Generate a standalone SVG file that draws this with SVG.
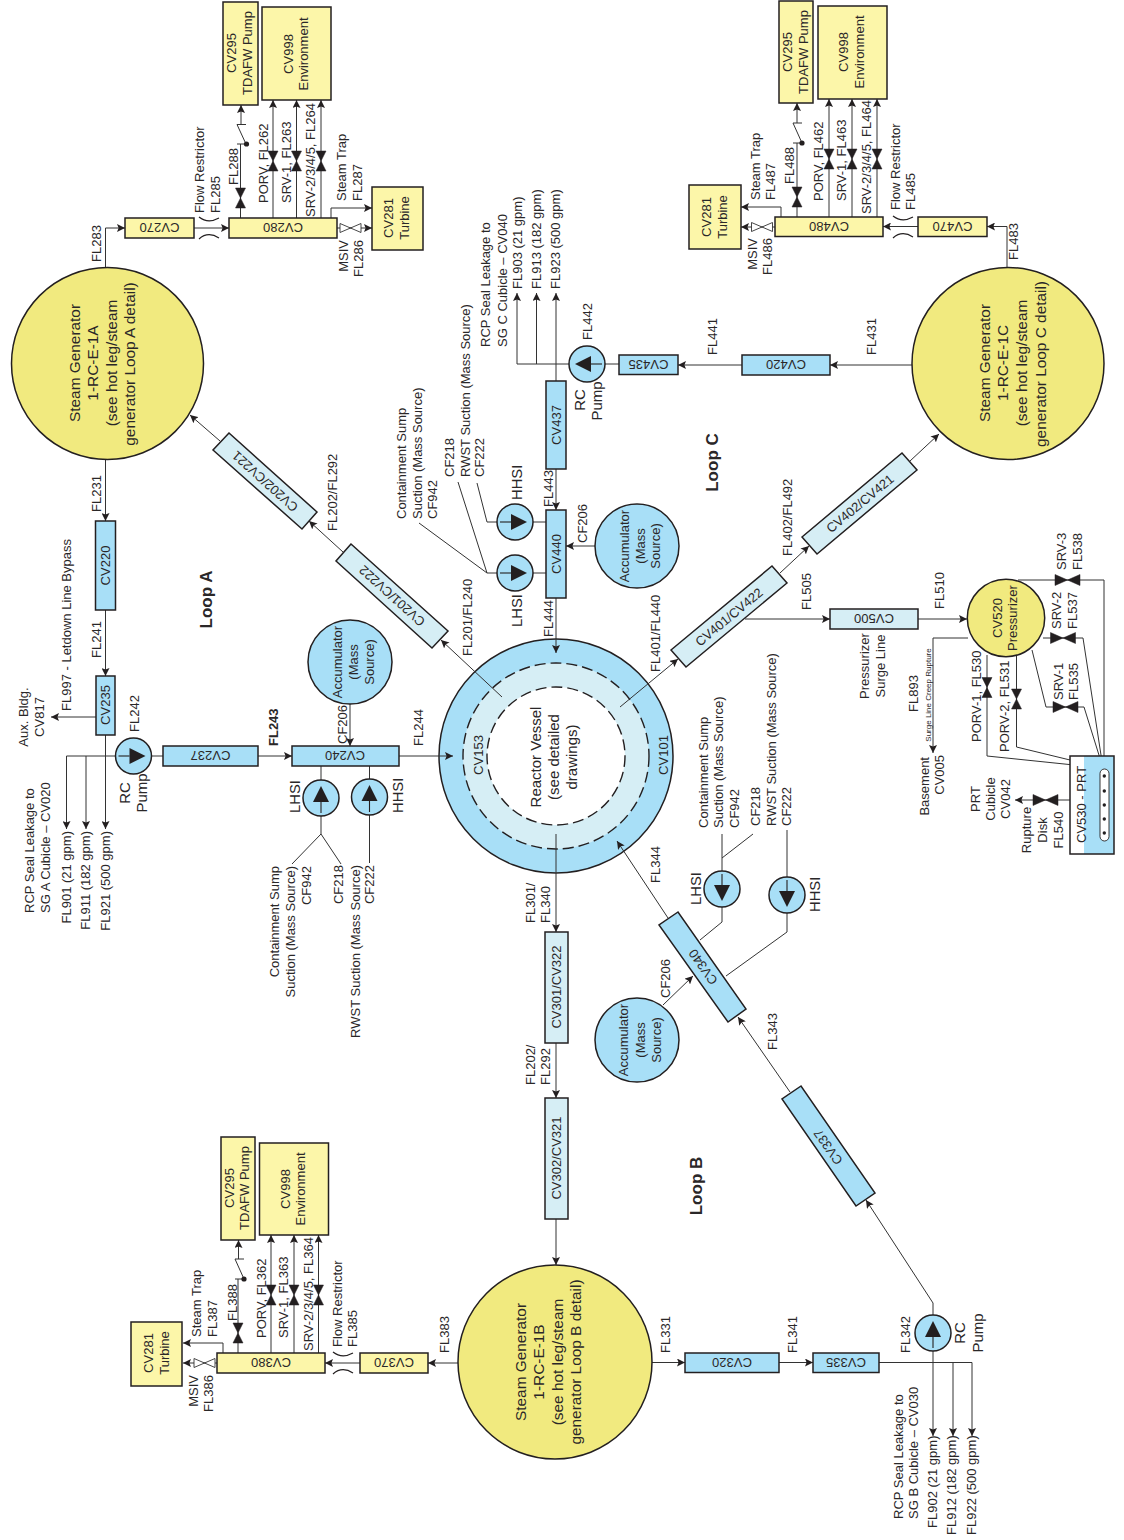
<svg xmlns="http://www.w3.org/2000/svg" width="1124" height="1540" viewBox="0 0 1124 1540">
<style>
text{font-family:"Liberation Sans",Arial,sans-serif;font-size:13px;fill:#2a2728}
.e{text-anchor:end}.m{text-anchor:middle}
.bm{font-size:13px;text-anchor:middle}
.sg{font-size:15.4px;text-anchor:middle}.rv{font-size:15px;text-anchor:middle}
.big{font-size:15px;text-anchor:middle}.hs{font-size:14.8px}
.lp{font-size:17px;font-weight:bold;text-anchor:middle}
.tiny{font-size:8px;text-anchor:middle}
.y{fill:#fcf6a9;stroke:#231f20;stroke-width:1.5}
.g{fill:#f1ea7f;stroke:#231f20;stroke-width:1.5}
.c{fill:#a8dff7;stroke:#231f20;stroke-width:1.5}
.p{fill:#d6eef5;stroke:#231f20;stroke-width:1.5}
.ln{fill:none;stroke:#333;stroke-width:1}
.ar{marker-end:url(#a)}
.k{fill:#231f20;stroke:#231f20;stroke-width:.5}
.h{fill:#fff;stroke:#333;stroke-width:.9}
.d{fill:none;stroke:#231f20;stroke-width:1.4;stroke-dasharray:11 5}
</style>
<defs>
<marker id="a" markerUnits="userSpaceOnUse" markerWidth="9" markerHeight="8" refX="8" refY="4" orient="auto"><path d="M0 0L8 4L0 8L1.6 4Z" fill="#231f20"/></marker>
<g id="pump"><circle r="18" class="c"/><polygon points="0,-12 -8,4 8,4" fill="#231f20"/><path d="M0 4V15" stroke="#231f20" stroke-width="1.1"/></g>
<polygon id="vv" class="k" points="-5,-10 5,-10 -5,10 5,10 0,0"/>
<polygon id="vh" class="k" points="-12.5,-5.5 -12.5,5.5 0,0 12.5,5.5 12.5,-5.5 0,0"/>
<polygon id="vo" class="h" points="-10.5,-4.5 -10.5,4.5 10.5,-4.5 10.5,4.5"/>
</defs>
<rect width="1124" height="1540" fill="#fff"/>

<g id="reactor-vessel">
<circle cx="556" cy="756" r="117" class="c"/>
<circle cx="556" cy="756" r="93" fill="#d6eef5"/>
<circle cx="556" cy="756" r="69" fill="#fff"/>
<circle cx="556" cy="756" r="93" class="d"/>
<circle cx="556" cy="756" r="69" class="d"/>
<text class="bm" transform="translate(483 755) rotate(-90)">CV153</text>
<text class="bm" transform="translate(668 755) rotate(-90)">CV101</text>
<text class="rv" transform="translate(541 757) rotate(-90)">Reactor Vessel</text>
<text class="rv" transform="translate(559 757) rotate(-90)">(see detailed</text>
<text class="rv" transform="translate(577 757) rotate(-90)">drawings)</text>
</g>

<g id="connectors">
<path class="ln ar" d="M105.5 267V228H125"/>
<path class="ln ar" d="M194 228H229"/>
<path class="ln" d="M240.5 218V144M237 144H246M246 144L237 124.5M237 124.5H246"/>
<path class="ln ar" d="M241 124.5V105"/>
<path class="ln ar" d="M273 218V100"/><path class="ln ar" d="M296.5 218V100"/><path class="ln ar" d="M321 218V100"/>
<path class="ln ar" d="M331 218V208H372"/>
<path class="ln ar" d="M337 228H372"/>
<path class="ln ar" d="M105.5 459V521"/><path class="ln ar" d="M105.5 610V676"/>
<path class="ln ar" d="M105.5 735V829"/>
<path class="ln" d="M66.5 756H116"/>
<path class="ln ar" d="M66.5 756V829"/><path class="ln ar" d="M86 756V829"/>
<path class="ln ar" d="M96 717H51"/>
<path class="ln" d="M152 756H163"/><path class="ln ar" d="M258 756H292"/><path class="ln ar" d="M399 756H453"/>
<path class="ln ar" d="M350 704V746"/>
<path class="ln" d="M321 766V834M292 864L321 834L341 864M369.5 766V863"/>
<path class="ln ar" d="M502 697L441 640"/><path class="ln ar" d="M343 552L309 521"/><path class="ln ar" d="M220 441L190 415"/>
<path class="ln ar" d="M1007 267V226.5H987"/>
<path class="ln ar" d="M918 226.5H883"/>
<path class="ln" d="M797 217V143M793 143H802M802 143L793 123M793 123H802"/>
<path class="ln ar" d="M797 123V103"/>
<path class="ln ar" d="M829 217V99"/><path class="ln ar" d="M852 217V99"/><path class="ln ar" d="M877 217V99"/>
<path class="ln ar" d="M781 217V207H741"/>
<path class="ln ar" d="M775 227H741"/>
<path class="ln ar" d="M912 365H830"/><path class="ln ar" d="M742 365H678"/>
<path class="ln" d="M619 364H605M569 364H517"/>
<path class="ln ar" d="M517 364V293"/><path class="ln ar" d="M536.5 364V293"/><path class="ln ar" d="M556 381V293"/>
<path class="ln ar" d="M556 469V510"/>
<path class="ln" d="M533 522H546M497 522H487L477 483"/>
<path class="ln" d="M533 573H546M497 573H487L458 482M487 573L419 523"/>
<path class="ln ar" d="M595 546H566"/>
<path class="ln ar" d="M556 598V653"/>
<path class="ln ar" d="M620 707L678 659"/><path class="ln ar" d="M780 573L809 546"/><path class="ln ar" d="M910 461L939 434"/>
<path class="ln ar" d="M745 619H830"/><path class="ln ar" d="M918 619H967"/>
<path class="ln ar" d="M968 638H933V753"/>
<path class="ln" d="M987 655V756L1103 768M1016.5 655V747L1103 768"/>
<path class="ln" d="M1032 650L1046 707H1084L1103 768M1043 638H1083L1103 768M1018 580H1104V768"/>
<path class="ln ar" d="M1070 800H1015"/>
<path class="ln ar" d="M556 834V932"/><path class="ln ar" d="M556 1043V1098"/><path class="ln ar" d="M556 1219V1265"/>
<path class="ln ar" d="M458 1363H428"/>
<path class="ln ar" d="M360 1363H325"/>
<path class="ln" d="M238 1353V1279M235 1279H244M244 1279L235 1259M235 1259H244"/>
<path class="ln ar" d="M238.5 1259V1240"/>
<path class="ln ar" d="M271 1353V1235"/><path class="ln ar" d="M294 1353V1235"/><path class="ln ar" d="M318.5 1353V1235"/>
<path class="ln ar" d="M223 1353V1343H183"/>
<path class="ln ar" d="M217 1363H183"/>
<path class="ln ar" d="M652 1362.5H685"/><path class="ln ar" d="M779 1362.5H813"/>
<path class="ln" d="M879 1362.5H972"/>
<path class="ln ar" d="M933 1351V1436"/><path class="ln ar" d="M953 1362.5V1436"/><path class="ln ar" d="M972 1362.5V1436"/>
<path class="ln ar" d="M933 1315V1303L866 1200"/>
<path class="ln ar" d="M790 1092L738 1017"/>
<path class="ln ar" d="M668 918L617 841"/>
<path class="ln ar" d="M663 1005L693 976"/>
<path class="ln" d="M722 871V834M722 858L753 834M722 907V922L700 940M787 877V830M787 913V932L726 976"/>
</g>

<g id="valves">
<use href="#vv" x="240.5" y="198"/><use href="#vv" x="273" y="161"/><use href="#vv" x="296.5" y="161"/><use href="#vv" x="321" y="161"/>
<use href="#vo" x="350.5" y="228"/>
<use href="#vv" x="797" y="197"/><use href="#vv" x="829" y="159"/><use href="#vv" x="852" y="159"/><use href="#vv" x="877" y="159"/>
<use href="#vo" x="762" y="227"/>
<use href="#vv" x="238" y="1333"/><use href="#vv" x="271" y="1295"/><use href="#vv" x="294" y="1295"/><use href="#vv" x="318.5" y="1295"/>
<use href="#vo" x="204.5" y="1363"/>
<use href="#vv" x="987" y="687.5"/><use href="#vv" x="1016.5" y="699"/>
<use href="#vh" x="1065.5" y="707"/><use href="#vh" x="1063" y="638"/><use href="#vh" x="1067.5" y="580"/><use href="#vh" x="1045.5" y="800"/>
<circle cx="246.5" cy="144" r="2.6" fill="#231f20"/><circle cx="802" cy="143" r="2.6" fill="#231f20"/><circle cx="244" cy="1279" r="2.6" fill="#231f20"/>
</g>

<g id="SG-A"><circle cx="107.5" cy="363.5" r="96" class="g"/>
<text class="sg" transform="translate(80 363) rotate(-90)">Steam Generator</text><text class="sg" transform="translate(98 363) rotate(-90)">1-RC-E-1A</text><text class="sg" transform="translate(117 363) rotate(-90)">(see hot leg/steam</text><text class="sg" transform="translate(135 364) rotate(-90)">generator Loop A detail)</text></g>
<g id="SG-B"><circle cx="555" cy="1362" r="97" class="g"/>
<text class="sg" transform="translate(526 1362) rotate(-90)">Steam Generator</text><text class="sg" transform="translate(544 1362) rotate(-90)">1-RC-E-1B</text><text class="sg" transform="translate(563 1362) rotate(-90)">(see hot leg/steam</text><text class="sg" transform="translate(581 1362) rotate(-90)">generator Loop B detail)</text></g>
<g id="SG-C"><circle cx="1008" cy="363.5" r="96" class="g"/>
<text class="sg" transform="translate(990 363) rotate(-90)">Steam Generator</text><text class="sg" transform="translate(1008 363) rotate(-90)">1-RC-E-1C</text><text class="sg" transform="translate(1027 363) rotate(-90)">(see hot leg/steam</text><text class="sg" transform="translate(1046 364) rotate(-90)">generator Loop C detail)</text></g>

<g id="CV295-A"><rect x="223" y="2" width="35" height="103" class="y"/><text class="bm" transform="translate(236 53) rotate(-90)">CV295</text><text class="bm" transform="translate(252 53) rotate(-90)">TDAFW Pump</text></g>
<g id="CV998-A"><rect x="262" y="7" width="69" height="93" class="y"/><text class="bm" transform="translate(293 54) rotate(-90)">CV998</text><text class="bm" transform="translate(308 54) rotate(-90)">Environment</text></g>
<g id="CV270"><rect x="125" y="218" width="69" height="20" class="y"/><text class="bm" transform="translate(159.5 228) rotate(180)" y="4.6">CV270</text></g>
<g id="CV280"><rect x="229" y="218" width="108" height="20" class="y"/><text class="bm" transform="translate(283 228) rotate(180)" y="4.6">CV280</text></g>
<g id="CV281-A"><rect x="372" y="187" width="51" height="63" class="y"/><text class="bm" transform="translate(393 218) rotate(-90)">CV281</text><text class="bm" transform="translate(409 218) rotate(-90)">Turbine</text></g>

<g id="CV295-C"><rect x="779" y="1" width="34" height="102" class="y"/><text class="bm" transform="translate(792 52) rotate(-90)">CV295</text><text class="bm" transform="translate(808 52) rotate(-90)">TDAFW Pump</text></g>
<g id="CV998-C"><rect x="818" y="6" width="69" height="93" class="y"/><text class="bm" transform="translate(848 52) rotate(-90)">CV998</text><text class="bm" transform="translate(864 52) rotate(-90)">Environment</text></g>
<g id="CV470"><rect x="918" y="217" width="69" height="19.5" class="y"/><text class="bm" transform="translate(952.5 226.5) rotate(180)" y="4.6">CV470</text></g>
<g id="CV480"><rect x="775" y="217" width="108" height="19.5" class="y"/><text class="bm" transform="translate(829 226.5) rotate(180)" y="4.6">CV480</text></g>
<g id="CV281-C"><rect x="689" y="185" width="52" height="64" class="y"/><text class="bm" transform="translate(711 217) rotate(-90)">CV281</text><text class="bm" transform="translate(727 217) rotate(-90)">Turbine</text></g>

<g id="CV295-B"><rect x="221" y="1137" width="34" height="103" class="y"/><text class="bm" transform="translate(234 1188) rotate(-90)">CV295</text><text class="bm" transform="translate(249 1188) rotate(-90)">TDAFW Pump</text></g>
<g id="CV998-B"><rect x="259.5" y="1143" width="69" height="92" class="y"/><text class="bm" transform="translate(290 1189) rotate(-90)">CV998</text><text class="bm" transform="translate(305 1189) rotate(-90)">Environment</text></g>
<g id="CV370"><rect x="360" y="1353" width="68" height="20" class="y"/><text class="bm" transform="translate(394 1363) rotate(180)" y="4.6">CV370</text></g>
<g id="CV380"><rect x="217" y="1353" width="108" height="20" class="y"/><text class="bm" transform="translate(271 1363) rotate(180)" y="4.6">CV380</text></g>
<g id="CV281-B"><rect x="131" y="1322" width="51" height="64" class="y"/><text class="bm" transform="translate(153 1353) rotate(-90)">CV281</text><text class="bm" transform="translate(169 1353) rotate(-90)">Turbine</text></g>

<g id="CV220"><rect x="95.5" y="521" width="20" height="89" class="c"/><text class="bm" transform="translate(110 565.5) rotate(-90)">CV220</text></g>
<g id="CV235"><rect x="96" y="676" width="19" height="59" class="c"/><text class="bm" transform="translate(110 705) rotate(-90)">CV235</text></g>
<g id="CV237"><rect x="163" y="746" width="95" height="20" class="c"/><text class="bm" transform="translate(210.5 756) rotate(180)" y="4.6">CV237</text></g>
<g id="CV240"><rect x="292" y="746" width="107" height="20" class="c"/><text class="bm" transform="translate(345 756) rotate(180)" y="4.6">CV240</text></g>
<g id="CV437"><rect x="546" y="381" width="20" height="88" class="c"/><text class="bm" transform="translate(560.5 425) rotate(-90)">CV437</text></g>
<g id="CV440"><rect x="546" y="510" width="20" height="88" class="c"/><text class="bm" transform="translate(560.5 554) rotate(-90)">CV440</text></g>
<g id="CV435"><rect x="619" y="355" width="59" height="19.5" class="c"/><text class="bm" transform="translate(648.5 364.5) rotate(180)" y="4.6">CV435</text></g>
<g id="CV420"><rect x="742" y="355" width="88" height="20" class="c"/><text class="bm" transform="translate(786 365) rotate(180)" y="4.6">CV420</text></g>
<g id="CV320"><rect x="685" y="1353" width="94" height="19.5" class="c"/><text class="bm" transform="translate(732 1362.5) rotate(180)" y="4.6">CV320</text></g>
<g id="CV335"><rect x="813" y="1353" width="66" height="19.5" class="c"/><text class="bm" transform="translate(846 1362.5) rotate(180)" y="4.6">CV335</text></g>
<g id="CV500"><rect x="830" y="609" width="88" height="20" class="p"/><text class="bm" transform="translate(874 619) rotate(180)" y="4.6">CV500</text></g>
<g id="CV301"><rect x="545" y="932" width="23" height="111" class="p"/><text class="bm" transform="translate(560.5 987) rotate(-90)">CV301/CV322</text></g>
<g id="CV302"><rect x="545" y="1098" width="23" height="121" class="p"/><text class="bm" transform="translate(560.5 1158) rotate(-90)">CV302/CV321</text></g>

<g id="CV201"><polygon points="351,544 336,561 432,648 448,631" class="p"/><text class="bm" transform="translate(392 596) rotate(222)" y="4.6">CV201/CV222</text></g>
<g id="CV202"><polygon points="229,433 213,450 302,529 317,512" class="p"/><text class="bm" transform="translate(265 481.5) rotate(222)" y="4.6">CV202/CV221</text></g>
<g id="CV401"><polygon points="671,650 686,667 787,583 772,566" class="p"/><text class="bm" transform="translate(729 617) rotate(-39.7)" y="4.6">CV401/CV422</text></g>
<g id="CV402"><polygon points="802,537 817,554 917,470 902,453" class="p"/><text class="bm" transform="translate(860 503.5) rotate(-39.7)" y="4.6">CV402/CV421</text></g>
<g id="CV340"><polygon points="678,912 659,925 728,1022 746,1009" class="c"/><text class="bm" transform="translate(703 967) rotate(235)" y="4.6">CV340</text></g>
<g id="CV337"><polygon points="801,1086 782,1099 856,1206 875,1193" class="c"/><text class="bm" transform="translate(828 1147) rotate(235)" y="4.6">CV337</text></g>

<g id="pump-A"><use href="#pump" transform="translate(133.5 756) rotate(90)"/></g>
<g id="LHSI-A"><use href="#pump" transform="translate(321 798)"/></g>
<g id="HHSI-A"><use href="#pump" transform="translate(369.5 797)"/></g>
<g id="pump-C"><use href="#pump" transform="translate(587 364) rotate(-90)"/></g>
<g id="HHSI-C"><use href="#pump" transform="translate(515 522) rotate(90)"/></g>
<g id="LHSI-C"><use href="#pump" transform="translate(515 573) rotate(90)"/></g>
<g id="LHSI-B"><use href="#pump" transform="translate(722 889) rotate(180)"/></g>
<g id="HHSI-B"><use href="#pump" transform="translate(787 895) rotate(180)"/></g>
<g id="pump-B"><use href="#pump" transform="translate(933 1333)"/></g>

<g id="accumulator-A"><circle cx="350" cy="662" r="42" class="c"/><text class="m" transform="translate(342 662) rotate(-90)">Accumulator</text><text class="m" transform="translate(358 662) rotate(-90)">(Mass</text><text class="m" transform="translate(374 662) rotate(-90)">Source)</text></g>
<g id="accumulator-C"><circle cx="637" cy="546" r="42" class="c"/><text class="m" transform="translate(629 546) rotate(-90)">Accumulator</text><text class="m" transform="translate(645 546) rotate(-90)">(Mass</text><text class="m" transform="translate(660 546) rotate(-90)">Source)</text></g>
<g id="accumulator-B"><circle cx="637" cy="1040" r="42" class="c"/><text class="m" transform="translate(628 1040) rotate(-90)">Accumulator</text><text class="m" transform="translate(645 1040) rotate(-90)">(Mass</text><text class="m" transform="translate(661 1040) rotate(-90)">Source)</text></g>

<g id="pressurizer"><circle cx="1006" cy="618" r="38.7" class="g"/><text class="bm" transform="translate(1002 618) rotate(-90)">CV520</text><text class="bm" transform="translate(1017 618) rotate(-90)">Pressurizer</text></g>
<g id="CV530"><rect x="1070" y="756" width="44" height="98" fill="#fff"/><rect x="1084" y="756" width="30" height="98" fill="#a8dff7"/><rect x="1070" y="756" width="44" height="98" fill="none" stroke="#231f20" stroke-width="1.5"/>
<rect x="1100" y="769" width="9" height="72" rx="4.5" fill="#fff" stroke="#231f20" stroke-width=".9"/>
<circle cx="1104.3" cy="776" r="1.7" fill="#231f20"/><circle cx="1104.3" cy="791" r="1.7" fill="#231f20"/><circle cx="1104.3" cy="805" r="1.7" fill="#231f20"/><circle cx="1104.3" cy="819" r="1.7" fill="#231f20"/><circle cx="1104.3" cy="833" r="1.7" fill="#231f20"/>
<text transform="translate(1086 843) rotate(-90)">CV530 - PRT</text></g>

<g id="restrictors" fill="none" stroke="#231f20" stroke-width="1.2">
<path d="M199 217Q208 224 219 218M199 239Q208 231 219 238"/>
<path d="M893 216Q902 223 913 217M893 238Q902 230 913 237"/>
<path d="M333 1352Q342 1359 353 1353M333 1374Q342 1366 353 1373"/>
</g>

<g id="labels">
<text transform="translate(101 262) rotate(-90)">FL283</text>
<text transform="translate(204 213) rotate(-90)">Flow Restrictor</text><text transform="translate(220 213) rotate(-90)">FL285</text>
<text transform="translate(238 185) rotate(-90)">FL288</text>
<text transform="translate(268 203) rotate(-90)">PORV, FL262</text>
<text transform="translate(291 203) rotate(-90)">SRV-1, FL263</text>
<text transform="translate(315 217) rotate(-90)">SRV-2/3/4/5, FL264</text>
<text transform="translate(346 201) rotate(-90)">Steam Trap</text><text transform="translate(362 201) rotate(-90)">FL287</text>
<text class="e" transform="translate(348 240) rotate(-90)">MSIV</text><text class="e" transform="translate(363 240) rotate(-90)">FL286</text>
<text transform="translate(101 512) rotate(-90)">FL231</text>
<text transform="translate(101 658) rotate(-90)">FL241</text>
<text transform="translate(71 711) rotate(-90)">FL997 - Letdown Line Bypass</text>
<text class="m" transform="translate(28 717) rotate(-90)">Aux. Bldg.</text><text class="m" transform="translate(44 717) rotate(-90)">CV817</text>
<text transform="translate(139 732) rotate(-90)">FL242</text>
<text class="big" transform="translate(130 793) rotate(-90)">RC</text><text class="big" transform="translate(147 793) rotate(-90)">Pump</text>
<text font-weight="bold" transform="translate(278 746) rotate(-90)">FL243</text>
<text transform="translate(423 746) rotate(-90)">FL244</text>
<text transform="translate(347 744) rotate(-90)">CF206</text>
<text class="hs" transform="translate(300 813) rotate(-90)">LHSI</text><text class="hs" transform="translate(403 813) rotate(-90)">HHSI</text>
<text class="e" transform="translate(279 866) rotate(-90)">Containment Sump</text><text class="e" transform="translate(295 866) rotate(-90)">Suction (Mass Source)</text><text class="e" transform="translate(311 866) rotate(-90)">CF942</text>
<text class="e" transform="translate(343 865) rotate(-90)">CF218</text><text class="e" transform="translate(360 865) rotate(-90)">RWST Suction (Mass Source)</text><text class="e" transform="translate(374 865) rotate(-90)">CF222</text>
<text class="e" transform="translate(71 831) rotate(-90)">FL901 (21 gpm)</text><text class="e" transform="translate(90 831) rotate(-90)">FL911 (182 gpm)</text><text class="e" transform="translate(110 831) rotate(-90)">FL921 (500 gpm)</text>
<text transform="translate(34 913) rotate(-90)">RCP Seal Leakage to</text><text transform="translate(50 913) rotate(-90)">SG A Cubicle – CV020</text>
<text transform="translate(337 531) rotate(-90)">FL202/FL292</text>
<text transform="translate(472 656) rotate(-90)">FL201/FL240</text>
<text class="lp" transform="translate(212 599.5) rotate(-90)">Loop A</text>

<text transform="translate(660 672) rotate(-90)">FL401/FL440</text>
<text transform="translate(792 556) rotate(-90)">FL402/FL492</text>
<text transform="translate(811 610) rotate(-90)">FL505</text>
<text transform="translate(944 609) rotate(-90)">FL510</text>
<text class="m" transform="translate(869 666) rotate(-90)">Pressurizer</text><text class="m" transform="translate(885 666) rotate(-90)">Surge Line</text>
<text transform="translate(918 712) rotate(-90)">FL893</text>
<text class="tiny" transform="translate(931 695) rotate(-90)">Surge Line Creep Rupture</text>
<text class="e" transform="translate(929 757) rotate(-90)">Basement</text><text class="e" transform="translate(944 755) rotate(-90)">CV005</text>
<text transform="translate(981 742) rotate(-90)">PORV-1, FL530</text>
<text transform="translate(1009 752) rotate(-90)">PORV-2, FL531</text>
<text transform="translate(1063 700) rotate(-90)">SRV-1</text><text transform="translate(1078 700) rotate(-90)">FL535</text>
<text transform="translate(1061 629) rotate(-90)">SRV-2</text><text transform="translate(1077 629) rotate(-90)">FL537</text>
<text transform="translate(1066 570) rotate(-90)">SRV-3</text><text transform="translate(1082 570) rotate(-90)">FL538</text>
<text class="m" transform="translate(980 799) rotate(-90)">PRT</text><text class="m" transform="translate(995 799) rotate(-90)">Cubicle</text><text class="m" transform="translate(1010 799) rotate(-90)">CV042</text>
<text class="m" transform="translate(1031 830) rotate(-90)">Rupture</text><text class="m" transform="translate(1047 830) rotate(-90)">Disk</text><text class="m" transform="translate(1063 830) rotate(-90)">FL540</text>

<text transform="translate(900 210) rotate(-90)">Flow Restrictor</text><text transform="translate(915 210) rotate(-90)">FL485</text>
<text transform="translate(794 184) rotate(-90)">FL488</text>
<text transform="translate(823 201) rotate(-90)">PORV, FL462</text>
<text transform="translate(846 201) rotate(-90)">SRV-1, FL463</text>
<text transform="translate(871 214) rotate(-90)">SRV-2/3/4/5, FL464</text>
<text transform="translate(760 200) rotate(-90)">Steam Trap</text><text transform="translate(775 200) rotate(-90)">FL487</text>
<text class="e" transform="translate(757 238) rotate(-90)">MSIV</text><text class="e" transform="translate(772 238) rotate(-90)">FL486</text>
<text transform="translate(1018 260) rotate(-90)">FL483</text>
<text transform="translate(876 355) rotate(-90)">FL431</text>
<text transform="translate(717 355) rotate(-90)">FL441</text>
<text transform="translate(592 340) rotate(-90)">FL442</text>
<text class="big" transform="translate(585 400) rotate(-90)">RC</text><text class="big" transform="translate(602 401) rotate(-90)">Pump</text>
<text transform="translate(490 347) rotate(-90)">RCP Seal Leakage to</text><text transform="translate(507 347) rotate(-90)">SG C Cubicle – CV040</text>
<text transform="translate(521.5 289) rotate(-90)">FL903 (21 gpm)</text><text transform="translate(541 289) rotate(-90)">FL913 (182 gpm)</text><text transform="translate(560 289) rotate(-90)">FL923 (500 gpm)</text>
<text transform="translate(406 519) rotate(-90)">Containment Sump</text><text transform="translate(422 519) rotate(-90)">Suction (Mass Source)</text><text transform="translate(437 519) rotate(-90)">CF942</text>
<text transform="translate(454 477) rotate(-90)">CF218</text><text transform="translate(470 477) rotate(-90)">RWST Suction (Mass Source)</text><text transform="translate(484 477) rotate(-90)">CF222</text>
<text class="hs" transform="translate(521.5 500) rotate(-90)">HHSI</text><text class="hs" transform="translate(521.5 627) rotate(-90)">LHSI</text>
<text transform="translate(553 507) rotate(-90)">FL443</text>
<text transform="translate(553 637) rotate(-90)">FL444</text>
<text transform="translate(587 543) rotate(-90)">CF206</text>
<text class="lp" transform="translate(718 462.5) rotate(-90)">Loop C</text>

<text transform="translate(535 923) rotate(-90)">FL301/</text><text transform="translate(550 923) rotate(-90)">FL340</text>
<text transform="translate(535 1085) rotate(-90)">FL202/</text><text transform="translate(550 1085) rotate(-90)">FL292</text>
<text transform="translate(660 883) rotate(-90)">FL344</text>
<text transform="translate(777 1050) rotate(-90)">FL343</text>
<text transform="translate(670 998) rotate(-90)">CF206</text>
<text transform="translate(708 828) rotate(-90)">Containment Sump</text><text transform="translate(723 828) rotate(-90)">Suction (Mass Source)</text><text transform="translate(739 828) rotate(-90)">CF942</text>
<text transform="translate(760 826) rotate(-90)">CF218</text><text transform="translate(776 826) rotate(-90)">RWST Suction (Mass Source)</text><text transform="translate(791 826) rotate(-90)">CF222</text>
<text class="hs" transform="translate(701 905) rotate(-90)">LHSI</text><text class="hs" transform="translate(820 912) rotate(-90)">HHSI</text>
<text class="lp" transform="translate(702 1186) rotate(-90)">Loop B</text>
<text transform="translate(449 1353) rotate(-90)">FL383</text>
<text transform="translate(342 1347) rotate(-90)">Flow Restrictor</text><text transform="translate(357 1347) rotate(-90)">FL385</text>
<text transform="translate(237 1321) rotate(-90)">FL388</text>
<text transform="translate(266 1338) rotate(-90)">PORV, FL362</text>
<text transform="translate(288 1338) rotate(-90)">SRV-1, FL363</text>
<text transform="translate(313 1351) rotate(-90)">SRV-2/3/4/5, FL364</text>
<text transform="translate(201 1337) rotate(-90)">Steam Trap</text><text transform="translate(217 1337) rotate(-90)">FL387</text>
<text class="e" transform="translate(198 1375) rotate(-90)">MSIV</text><text class="e" transform="translate(213 1375) rotate(-90)">FL386</text>
<text transform="translate(670 1353) rotate(-90)">FL331</text>
<text transform="translate(797 1353) rotate(-90)">FL341</text>
<text transform="translate(910 1353) rotate(-90)">FL342</text>
<text class="big" transform="translate(965 1333) rotate(-90)">RC</text><text class="big" transform="translate(983 1333) rotate(-90)">Pump</text>
<text transform="translate(903 1519) rotate(-90)">RCP Seal Leakage to</text><text transform="translate(918 1519) rotate(-90)">SG B Cubicle – CV030</text>
<text transform="translate(937 1528) rotate(-90)">FL902 (21 gpm)</text><text transform="translate(956 1535) rotate(-90)">FL912 (182 gpm)</text><text transform="translate(976 1535) rotate(-90)">FL922 (500 gpm)</text>
</g>
</svg>
